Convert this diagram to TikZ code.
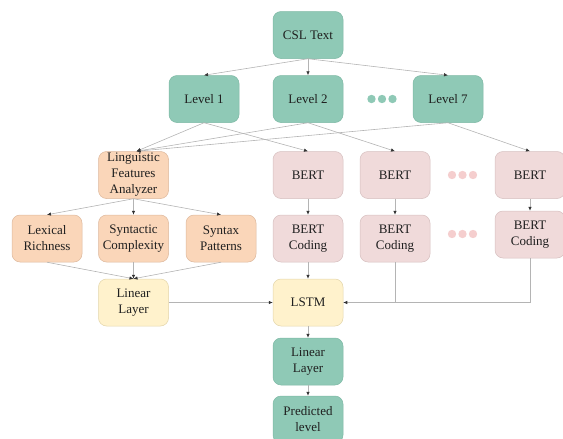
\documentclass[tikz,border=0pt]{standalone}
\usepackage{fontspec}
\setmainfont{Liberation Serif}
\usetikzlibrary{arrows.meta}
\definecolor{gfill}{HTML}{8FC9B6}
\definecolor{gline}{HTML}{7DB8A4}
\definecolor{ofill}{HTML}{FAD6B9}
\definecolor{oline}{HTML}{DDB89C}
\definecolor{pfill}{HTML}{F0DADA}
\definecolor{pline}{HTML}{D6BFBF}
\definecolor{yfill}{HTML}{FFF2CC}
\definecolor{yline}{HTML}{E3D5AA}
\definecolor{pdot}{HTML}{F5CECE}
\definecolor{linegray}{HTML}{B4B4B4}
\begin{document}
\begin{tikzpicture}[x=1pt,y=-1pt,
  basebox/.style={rounded corners=8pt, minimum width=70pt, minimum height=47pt,
    align=center, inner sep=0pt, text=black!88, line width=0.5pt,
    font=\fontsize{13}{16}\selectfont},
  gbox/.style={basebox, draw=gline, fill=gfill},
  obox/.style={basebox, draw=oline, fill=ofill},
  pbox/.style={basebox, draw=pline, fill=pfill},
  ybox/.style={basebox, draw=yline, fill=yfill},
  gdot/.style={circle, fill=gfill, minimum size=8.4pt, inner sep=0pt},
  pdotst/.style={circle, fill=pdot, minimum size=8.4pt, inner sep=0pt},
  conn/.style={draw=linegray, line width=0.6pt, -{Latex[length=4pt,width=3.5pt,color=black!80]}},
  plain/.style={draw=linegray, line width=0.6pt}]
\useasboundingbox (0,0) rectangle (563,439);

\node[gbox] (csl) at (308,35) {CSL Text};
\node[gbox] (l1) at (204,99) {Level 1};
\node[gbox] (l2) at (308,99) {Level 2};
\node[gbox] (l7) at (448,99) {Level 7};
\node[gdot] (gd1) at (371.5,99) {};
\node[gdot] (gd2) at (382,99) {};
\node[gdot] (gd3) at (392.5,99) {};

\node[obox] (lfa) at (133.5,175) {Linguistic\\Features\\Analyzer};
\node[pbox] (b1) at (308,175) {BERT};
\node[pbox] (b2) at (395,175) {BERT};
\node[pbox] (b3) at (530,175) {BERT};
\node[pdotst] (pd1) at (452,175) {};
\node[pdotst] (pd2) at (462.5,175) {};
\node[pdotst] (pd3) at (473,175) {};

\node[obox] (lex) at (47,238.5) {Lexical\\Richness};
\node[obox] (syc) at (133.5,238.5) {Syntactic\\Complexity};
\node[obox] (syp) at (221,238.5) {Syntax\\Patterns};
\node[pbox] (bc1) at (308,238.5) {BERT\\Coding};
\node[pbox] (bc2) at (395,238.5) {BERT\\Coding};
\node[pbox] (bc3) at (530,234.5) {BERT\\Coding};
\node[pdotst] (qd1) at (452,234) {};
\node[pdotst] (qd2) at (462.5,234) {};
\node[pdotst] (qd3) at (473,234) {};

\node[ybox] (lin) at (133.5,302.5) {Linear\\Layer};
\node[ybox] (lstm) at (308,302.5) {LSTM};
\node[gbox] (ling) at (308,361.5) {Linear\\Layer};
\node[gbox] (pred) at (308,419.5) {Predicted\\level};

\coordinate (lfatop) at ([xshift=3pt]lfa.north);
\coordinate (j2) at (bc2.south |- lstm.east);
\coordinate (j3) at (bc3.south |- lstm.east);

\draw[conn] (csl.south) -- (l1.north);
\draw[conn] (csl.south) -- (l2.north);
\draw[conn] (csl.south) -- (l7.north);

\draw[conn] (l1.south) -- (lfatop);
\draw[conn] (l2.south) -- (lfatop);
\draw[conn] (l7.south) -- (lfatop);
\draw[conn] (l1.south) -- (b1.north);
\draw[conn] (l2.south) -- (b2.north);
\draw[conn] (l7.south) -- (b3.north);

\draw[conn] (lfa.south) -- (lex.north);
\draw[conn] (lfa.south) -- (syc.north);
\draw[conn] (lfa.south) -- (syp.north);

\draw[conn] (b1.south) -- (bc1.north);
\draw[conn] (b2.south) -- (bc2.north);
\draw[conn] (b3.south) -- (bc3.north);

\draw[conn] (lex.south) -- (lin.north);
\draw[conn] (syc.south) -- (lin.north);
\draw[conn] (syp.south) -- (lin.north);

\draw[conn] (lin.east) -- (lstm.west);
\draw[conn] (bc1.south) -- (lstm.north);
\draw[plain] (bc3.south) -- (j3) -- (j2);
\draw[conn] (bc2.south) -- (j2) -- (lstm.east);

\draw[conn] (lstm.south) -- (ling.north);
\draw[conn] (ling.south) -- (pred.north);
\end{tikzpicture}
\end{document}
